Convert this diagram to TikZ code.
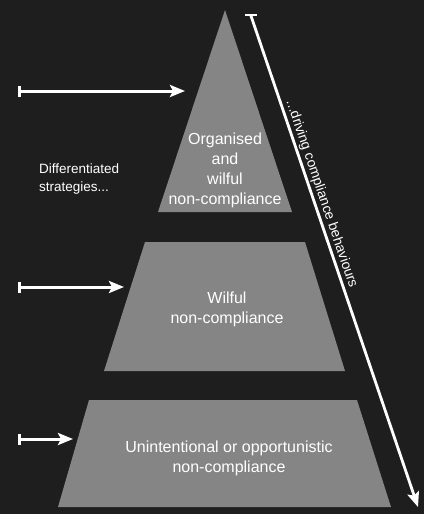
\documentclass[tikz,border=0pt]{standalone}
\usepackage{fontspec}
\setmainfont{Liberation Sans}
\usetikzlibrary{arrows.meta}
\definecolor{bg}{HTML}{1E1E1E}
\definecolor{band}{HTML}{858585}
\tikzset{
  band/.style={fill=band, draw=none},
  lbl/.style={text=white, align=center, font=\fontsize{16}{20}\selectfont, inner sep=0pt},
  side/.style={text=white, align=left, font=\fontsize{13.5}{18}\selectfont, inner sep=0pt},
  conn/.style={draw=white, line width=3pt, {Bar[width=11pt,line width=2.6pt]}-{Stealth[length=15pt,width=12pt,inset=3pt]}},
}
\begin{document}
\begin{tikzpicture}[x=1pt,y=-1pt]
\fill[bg] (0,0) rectangle (424,514);
\useasboundingbox (0,0) rectangle (424,514);
% pyramid bands
\path[band] (225,10) -- (292,212) -- (158,212) -- cycle;
\path[band] (145,242) -- (305,242) -- (345,371) -- (104,371) -- cycle;
\path[band] (89,400) -- (357,400) -- (391,507) -- (58,507) -- cycle;
% labels
\node[lbl] (top) at (225,170) {Organised\\and\\wilful\\non-compliance};
\node[lbl] (mid) at (227,309) {Wilful\\non-compliance};
\node[lbl] (bot) at (229,458) {Unintentional or opportunistic\\non-compliance};
\node[side, anchor=north west] (diff) at (39,164) {Differentiated\\strategies...};
% strategy arrows
\coordinate (s1) at (18,91);  \coordinate (e1) at (185,91);
\coordinate (s2) at (18,287); \coordinate (e2) at (124,287);
\coordinate (s3) at (18,439); \coordinate (e3) at (73,439);
\draw[conn] (s1) -- (e1);
\draw[conn] (s2) -- (e2);
\draw[conn] (s3) -- (e3);
% diagonal arrow
\coordinate (ds) at (250.7,15);
\coordinate (de) at (418,507);
\coordinate (bl) at (245,15);
\coordinate (br) at (256.5,15);
\draw[white, line width=2.6pt] (bl) -- (br);
\draw[white, line width=2.8pt, -{Stealth[length=15pt,width=12pt,inset=3pt]}] (ds) -- node[pos=0.37, sloped, above=1.5pt, text=white, font=\fontsize{13.8}{16}\selectfont, inner sep=0pt] (drv) {...driving compliance behaviours} (de);
\end{tikzpicture}
\end{document}
